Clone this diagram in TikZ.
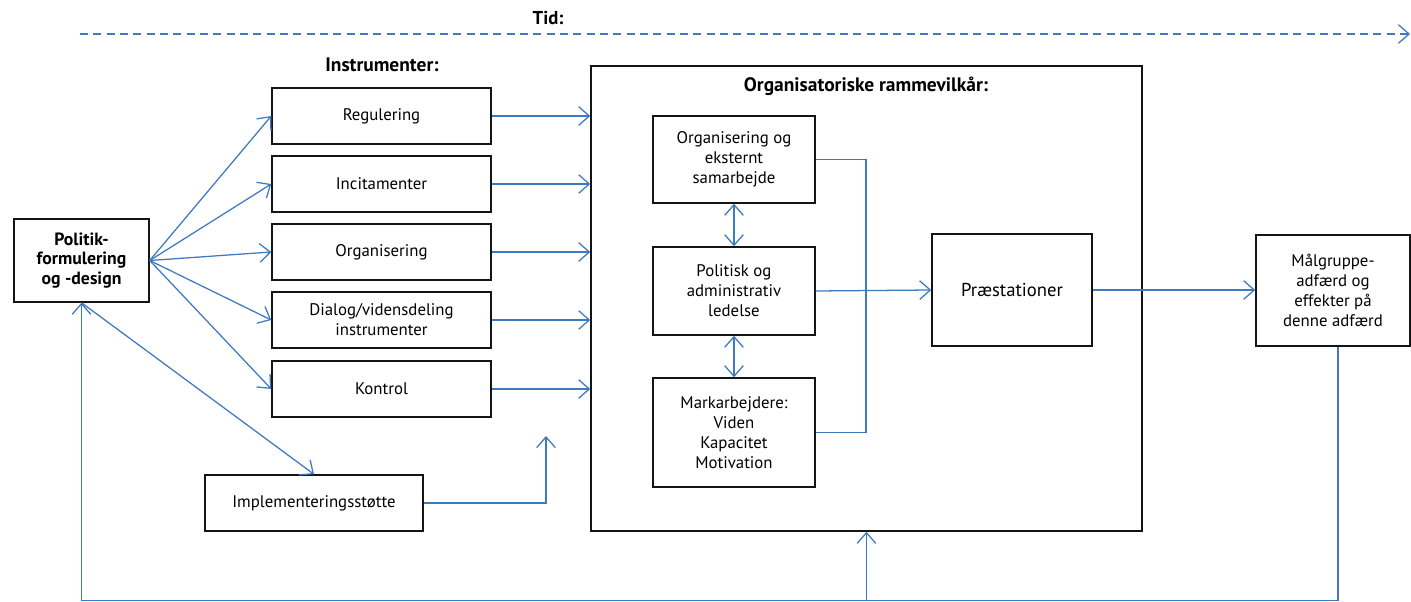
\documentclass[tikz,border=0pt]{standalone}
\usepackage{fontspec}
\setmainfont{PT Sans}
\usetikzlibrary{arrows.meta,calc}
\definecolor{lblue}{RGB}{62,122,192}
\definecolor{boxk}{RGB}{20,20,20}
\newcommand\mkbox[7][]{\node[box,#1,minimum width={(#4-#2)*0.75pt},minimum height={(#5-#3)*0.75pt}] (#6) at ({(#2+#4)/2},{(#3+#5)/2}) {#7};}
\begin{document}
\begin{tikzpicture}[x=0.75pt,y=-0.75pt,
  box/.style={draw=boxk,line width=1.1pt,fill=white,inner sep=1pt,align=center,font=\fontsize{12.6}{15}\selectfont},
  arr/.style={draw=lblue,line width=0.95pt,-{Straight Barb[length=8pt,width=14pt]}},
  ln/.style={draw=lblue,line width=0.95pt},
  darr/.style={draw=lblue,line width=0.95pt,{Straight Barb[length=8pt,width=14pt]}-{Straight Barb[length=8pt,width=14pt]}},
  ttl/.style={font=\bfseries\fontsize{14.6}{16}\selectfont}]
\useasboundingbox (0,0) rectangle (1411,602);
% titles
\node[ttl,font=\bfseries\fontsize{14}{16}\selectfont] (tid) at (548,18) {Tid:};
\node[ttl] (instr) at (382,65) {Instrumenter:};
\coordinate (ds) at (80,34);
\coordinate (de) at (1410,34);
\draw[arr,dash pattern=on 6pt off 4pt] (ds) -- (de);
% boxes
\mkbox[font=\bfseries\fontsize{13.3}{14.8}\selectfont]{14}{219}{149}{302}{pol}{Politik-\\formulering\\og -design}
\mkbox{272}{88}{491}{144}{reg}{\raisebox{-2pt}{Regulering}}
\mkbox{272}{156}{491}{212}{inc}{Incitamenter}
\mkbox{272}{224}{491}{280}{org}{\raisebox{-2pt}{Organisering}}
\mkbox{272}{292}{491}{348}{dia}{Dialog/vidensdeling\\instrumenter}
\mkbox{272}{361}{491}{417}{kon}{Kontrol}
\mkbox{205}{475}{423}{531}{imp}{\raisebox{-1pt}{Implementeringsstøtte}}
\mkbox{591}{66}{1142}{531}{big}{}
\node[ttl] (orgt) at (866,86) {Organisatoriske rammevilkår:};
\mkbox{653}{116}{815}{203}{oes}{Organisering og\\eksternt\\samarbejde}
\mkbox{653}{247}{815}{335}{pal}{Politisk og\\administrativ\\ledelse}
\mkbox{653}{378}{815}{487}{mar}{Markarbejdere:\\Viden\\Kapacitet\\Motivation}
\mkbox[font=\fontsize{14}{15}\selectfont]{932}{234}{1092}{346}{pra}{Præstationer}
\mkbox{1256}{235}{1410}{346}{maa}{Målgruppe-\\adfærd og\\effekter på\\denne adfærd}
% arrows from politik
\foreach \b in {reg,inc,org,dia,kon}{
  \draw[arr] (pol.east) -- (\b.west);
  \draw[arr] (\b.east) -- (big.west |- \b.east);
}
\draw[arr] (pol.south) -- (imp.north);
\coordinate (ie) at (546,436);
\draw[arr] (imp.east) -| (ie);
% inner
\draw[darr] (oes.south) -- (pal.north);
\draw[darr] (pal.south) -- (mar.north);
\coordinate (j) at (866,0);
\draw[ln] (oes.east) -| (j |- mar.east) -- (mar.east);
\draw[arr] (pal.east) -- (pra.west);
\draw[arr] (pra.east) -- (maa.west |- pra.east);
% feedback
\coordinate (b) at (0,600.5);
\coordinate (mx) at (1338,0);
\draw[arr] (mx |- maa.south) -- (mx |- b) -- (pol.south |- b) -- (pol.south);
\draw[arr] (big.south |- b) -- (big.south);
\end{tikzpicture}
\end{document}
